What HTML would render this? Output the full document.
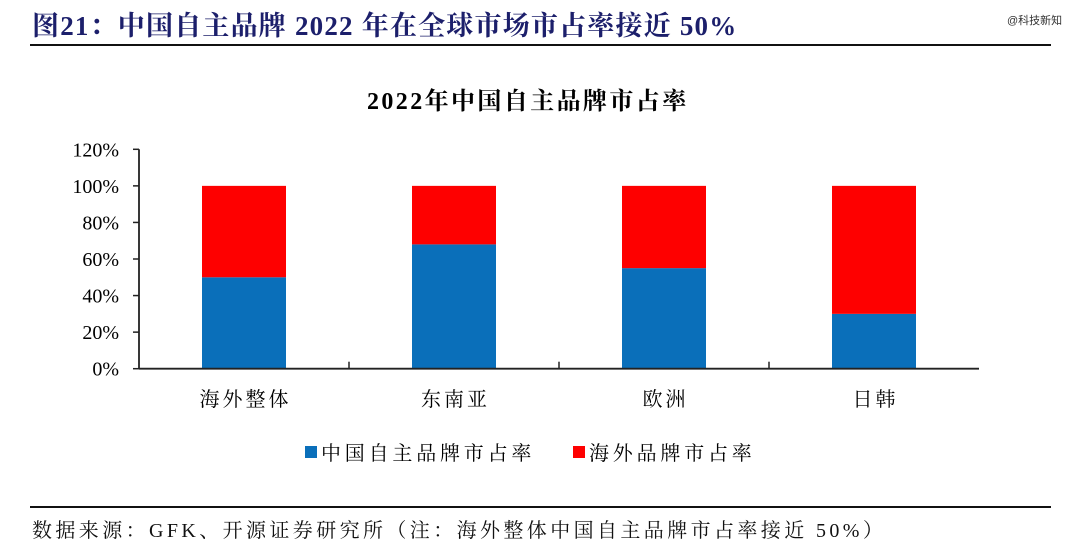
<!DOCTYPE html>
<html><head><meta charset="utf-8">
<style>
body{margin:0;width:1080px;height:556px;background:#fff;overflow:hidden;position:relative;font-family:"Liberation Serif","Noto Serif CJK SC",serif}
.hdr{position:absolute;left:32px;top:4px;font-size:27px;font-weight:bold;color:#1c1f6b;letter-spacing:1.2px;font-family:"Liberation Serif","Noto Serif CJK SC",serif;white-space:nowrap}
.wm{position:absolute;left:1007px;top:12px;font-size:11px;color:#333;font-family:"Liberation Sans","Noto Sans CJK SC",sans-serif}
.line{position:absolute;left:30px;width:1021px;height:2px;background:#111}
.src{position:absolute;left:32px;top:514px;font-size:20px;color:#111;letter-spacing:3.4px;white-space:nowrap}
</style></head><body>
<div class="hdr">图21：中国自主品牌 2022 年在全球市场市占率接近 50%</div>
<div class="wm">@科技新知</div>
<div class="line" style="top:44px"></div>
<svg id="chart" width="1080" height="556" style="position:absolute;left:0;top:0"></svg>
<div class="line" style="top:506px"></div>
<div class="src">数据来源：GFK、开源证券研究所（注：海外整体中国自主品牌市占率接近 50%）</div>
<script>
const categories=["海外整体","东南亚","欧洲","日韩"];
const chinaShare=[50,68,55,30];
const overseasShare=[50,32,45,70];
const yTicks=[0,20,40,60,80,100,120];
const NS="http://www.w3.org/2000/svg";
const svg=document.getElementById('chart');
const x0=139,x1=979,y0=368.7,yTop=149.3,yMax=120;
const bandW=(x1-x0)/categories.length;
const y=v=>y0-(v/yMax)*(y0-yTop);
const bx=i=>x0+bandW*i+bandW*0.3;
const bw=bandW*0.4;
function mk(t,a){const e=document.createElementNS(NS,t);for(const k in a)e.setAttribute(k,a[k]);svg.appendChild(e);return e;}
const ct=mk('text',{x:367,y:109,'font-size':24,'font-weight':'bold',fill:'#000','letter-spacing':2.4});
ct.textContent='2022年中国自主品牌市占率';


categories.forEach((c,i)=>{
  const r1=mk('rect',{x:bx(i),y:y(chinaShare[i]),width:bw,height:y0-y(chinaShare[i]),fill:'#0a6fba'});
  
  
  const r2=mk('rect',{x:bx(i),y:y(chinaShare[i]+overseasShare[i]),width:bw,height:y(chinaShare[i])-y(chinaShare[i]+overseasShare[i]),fill:'#fe0000'});
  
  
  const t=mk('text',{x:x0+bandW*(i+0.5)+1.5,y:406,'text-anchor':'middle','font-size':20,fill:'#000','letter-spacing':3});
  t.textContent=c;
  
  
  if(i>0){const tk=mk('line',{x1:x0+bandW*i,x2:x0+bandW*i,y1:y0,y2:y0-7,stroke:'#222','stroke-width':1.5});
  
  }
});
yTicks.forEach(v=>{
  const l=mk('line',{x1:x0-6,x2:x0,y1:y(v),y2:y(v),stroke:'#222','stroke-width':1.5});
  
  
  const t=mk('text',{x:119,y:y(v)+7,'text-anchor':'end','font-size':20,fill:'#000'});
  t.textContent=v+'%';
  
  
});
const ya=mk('line',{x1:x0,x2:x0,y1:yTop,y2:y0,stroke:'#222','stroke-width':1.8});


const xa=mk('line',{x1:x0,x2:x1,y1:y0,y2:y0,stroke:'#222','stroke-width':1.8});


const leg=[["中国自主品牌市占率",'#0a6fba',305],["海外品牌市占率",'#fe0000',573]];
leg.forEach(([n,c,lx],i)=>{
  const s=mk('rect',{x:lx,y:446,width:12,height:12,fill:c});
  
  
  const t=mk('text',{x:lx+16,y:460,'font-size':20,fill:'#000','letter-spacing':3.8});
  t.textContent=n;
  
  
});
</script>
</body></html>
